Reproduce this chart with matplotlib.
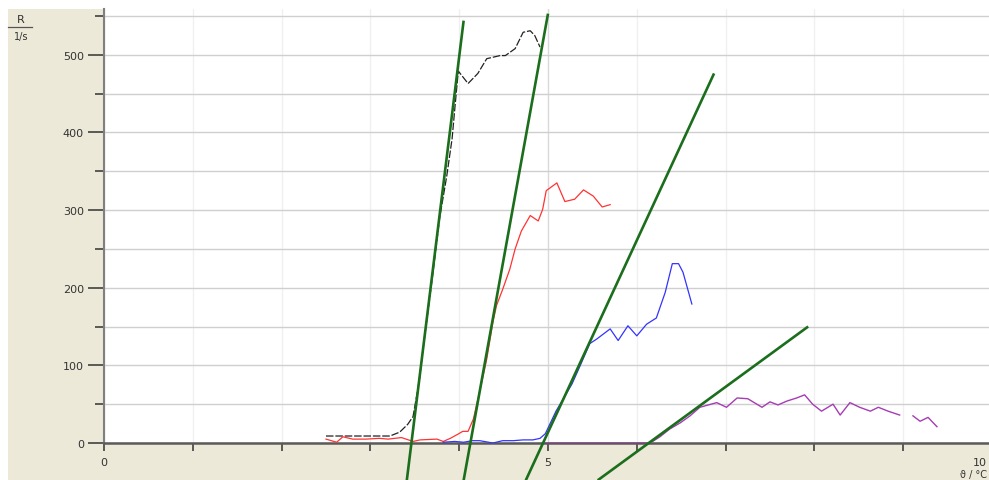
import numpy as np
import matplotlib
matplotlib.use("Agg")
import matplotlib.pyplot as plt
from matplotlib.patches import Rectangle
from matplotlib.lines import Line2D
from matplotlib.ticker import MultipleLocator, FuncFormatter

# ---- measured series (x in time units, y = R in 1/s) ----
black_x = [2.50, 2.70, 2.90, 3.10, 3.22, 3.33, 3.42, 3.48, 3.55, 3.62, 3.70, 3.78,
           3.86, 3.92, 3.95, 3.99, 4.10, 4.21, 4.31, 4.46, 4.52, 4.63, 4.72, 4.80, 4.85, 4.91]
black_y = [9, 9, 9, 9, 9, 14, 24, 34, 80, 145, 215, 290,
           344, 392, 430, 479, 463, 476, 495, 499, 499, 508, 529, 531, 525, 510]

red_x = [2.50, 2.62, 2.69, 2.80, 2.95, 3.10, 3.20, 3.35, 3.48, 3.56, 3.75, 3.82,
         3.90, 3.98, 4.04, 4.10, 4.16, 4.23, 4.31, 4.38, 4.42, 4.49, 4.57, 4.63,
         4.70, 4.80, 4.89, 4.94, 4.98, 5.10, 5.19, 5.30, 5.40, 5.51, 5.61, 5.70]
red_y = [5, 1, 8, 5, 5, 6, 5, 7, 2, 4, 5, 2,
         6, 11, 15, 15, 31, 66, 108, 156, 177, 198, 224, 250,
         273, 293, 286, 301, 325, 335, 311, 314, 326, 318, 304, 307]

blue_x = [3.82, 3.95, 4.05, 4.15, 4.23, 4.38, 4.49, 4.61, 4.72, 4.83, 4.91, 4.97,
          5.09, 5.27, 5.36, 5.47, 5.55, 5.70, 5.79, 5.90, 6.00, 6.11, 6.22, 6.32,
          6.40, 6.47, 6.52, 6.62]
blue_y = [1, 2, 1, 3, 3, 0, 3, 3, 4, 4, 6, 12,
          41, 76, 99, 128, 134, 147, 132, 151, 138, 153, 161, 194,
          231, 231, 220, 179]

purple_x = [4.93, 5.30, 5.70, 6.15, 6.26, 6.37, 6.49, 6.60, 6.71, 6.90, 7.01, 7.13,
            7.25, 7.41, 7.50, 7.59, 7.69, 7.80, 7.89, 7.98, 8.08, 8.21, 8.29, 8.40,
            8.51, 8.63, 8.72, 8.83, 8.96, np.nan, 9.11, 9.19, 9.28, 9.38]
purple_y = [0, 0, 0, 0, 8, 18, 26, 35, 46, 52, 46, 58,
            57, 46, 53, 49, 54, 58, 62, 50, 41, 50, 36, 52,
            46, 41, 46, 41, 36, np.nan, 35, 28, 33, 21]

# tangent lines drawn on the rising flanks (end points)
tangent_x = [(3.41, 4.05), (4.05, 5.00), (4.75, 6.87), (5.56, 7.93)]
tangent_y = [(-48, 544), (-48, 553), (-48, 476), (-48, 150)]

W, H = 989, 481
fig = plt.figure(figsize=(W / 100, H / 100), dpi=100, facecolor="white")

beige = "#ECE9D8"
fig.patches.append(Rectangle((8 / W, 0), (104 - 8) / W, (H - 10) / H,
                             transform=fig.transFigure, facecolor=beige,
                             edgecolor="none", zorder=-5))
fig.patches.append(Rectangle((8 / W, 0), 1 - 8 / W, (H - 444) / H,
                             transform=fig.transFigure, facecolor=beige,
                             edgecolor="none", zorder=-5))

ax = fig.add_axes([104 / W, (H - 444) / H, 888 / W, (444 - 10) / H])
ax.set_zorder(2)
ax.set_facecolor("white")
ax.set_xlim(0, 10)
ax.set_ylim(0, 559)

# grid
ax.yaxis.set_major_locator(MultipleLocator(100))
ax.yaxis.set_minor_locator(MultipleLocator(50))
ax.xaxis.set_major_locator(MultipleLocator(5))
ax.xaxis.set_minor_locator(MultipleLocator(1))
ax.grid(axis="y", which="both", color="#CFCFCF", lw=1.0, zorder=0)
ax.grid(axis="x", which="major", color="#D9D9D9", lw=1.0, zorder=0)
ax.grid(axis="x", which="minor", color="#F0F0F0", lw=1.0, zorder=0)
ax.set_axisbelow(True)

ax.tick_params(axis="y", which="major", direction="out", length=11.5, width=1.2,
               color="#404040", labelsize=8, labelcolor="#333333", pad=3)
ax.tick_params(axis="y", which="minor", direction="out", length=6.5, width=1.2,
               color="#404040")
ax.tick_params(axis="x", which="both", direction="out", length=6, width=1.2,
               color="#404040", labelsize=8, labelcolor="#333333", pad=4)
# the label for 10 falls on the figure edge; it is placed separately below
ax.xaxis.set_major_formatter(FuncFormatter(lambda v, p: "" if v >= 10 else f"{v:g}"))

for s in ("top", "right"):
    ax.spines[s].set_visible(False)
ax.spines["left"].set_color("#808080")
ax.spines["left"].set_linewidth(1.5)
ax.spines["bottom"].set_color("#5a5a5a")
ax.spines["bottom"].set_linewidth(1.8)

# data curves
ax.plot(black_x, black_y, color="#222222", lw=0.9, dashes=(6, 1.5), zorder=3)
ax.plot(red_x, red_y, color="#FF3333", lw=0.9, zorder=3)
ax.plot(blue_x, blue_y, color="#3333FF", lw=0.9, zorder=3)
ax.plot(purple_x, purple_y, color="#A63CB4", lw=1.0, zorder=3)

for tx, ty in zip(tangent_x, tangent_y):
    ax.plot(tx, ty, color="#1B6E1B", lw=1.9, zorder=4, clip_on=False,
            solid_capstyle="butt")

fig.text(987 / W, 1 - 463 / H, "10", fontsize=8, color="#333333",
         ha="right", va="center")

# axis caption R over 1/s
fig.text(21 / W, 1 - 20 / H, "R", fontsize=8, color="#333333",
         ha="center", va="center")
fig.lines.append(Line2D([8 / W, 32 / W], [1 - 28 / H, 1 - 28 / H],
                        transform=fig.transFigure, color="#555555", lw=0.9))
fig.text(21 / W, 1 - 37 / H, "1/s", fontsize=7, color="#333333",
         ha="center", va="center")
fig.text(987 / W, 1 - 475 / H, "ϑ / °C", fontsize=7, color="#333333",
         ha="right", va="center")

fig.savefig("out.png", dpi=100, facecolor=fig.get_facecolor())
